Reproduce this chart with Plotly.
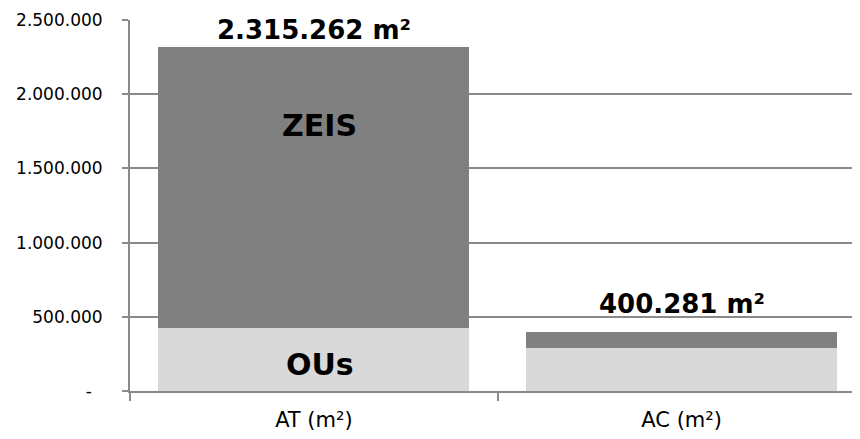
import plotly.graph_objects as go

categories = ["AT (m²)", "AC (m²)"]
ous_values = [425000, 288000]
zeis_values = [1890262, 112281]
totals = [2315262, 400281]
total_labels = ["2.315.262 m²", "400.281 m²"]
y_tickvals = [0, 500000, 1000000, 1500000, 2000000, 2500000]
y_ticktext = ["-\u00a0\u00a0", "500.000", "1.000.000", "1.500.000", "2.000.000", "2.500.000"]

grid = "#8a8a8a"
font_family = "DejaVu Sans"

fig = go.Figure()
fig.add_trace(go.Bar(x=categories, y=ous_values, marker=dict(color="#d9d9d9", line=dict(width=0)), name="OUs"))
fig.add_trace(go.Bar(x=categories, y=zeis_values, marker=dict(color="#808080", line=dict(width=0)), name="ZEIS"))

annotations = []
for i, (cat, tot, lab) in enumerate(zip(categories, totals, total_labels)):
    annotations.append(dict(x=cat, y=tot, text=f"<b>{lab}</b>", showarrow=False,
                            yanchor="bottom", yshift=0 if i == 0 else 11,
                            font=dict(family=font_family, size=26, color="#000000")))
annotations.append(dict(x=categories[0], y=1786000, text="<b>ZEIS</b>", showarrow=False, xshift=6,
                        font=dict(family=font_family, size=30, color="#000000")))
annotations.append(dict(x=categories[0], y=181000, text="<b>OUs</b>", showarrow=False, xshift=6,
                        font=dict(family=font_family, size=30, color="#000000")))

fig.update_layout(
    barmode="stack",
    bargap=0.154,
    width=852, height=431,
    margin=dict(l=122, r=0, t=12, b=48, autoexpand=False),
    plot_bgcolor="white", paper_bgcolor="white",
    showlegend=False,
    annotations=annotations,
    font=dict(family=font_family, color="#000000"),
    xaxis=dict(range=[-0.5, 1.485], showline=True, linecolor=grid, linewidth=2, automargin=False,
               ticks="outside", tickson="boundaries", ticklen=8, tickcolor=grid, tickwidth=2,
               ticklabelstandoff=9,
               tickfont=dict(family=font_family, size=21, color="#000000"), showgrid=False),
    yaxis=dict(range=[0, 2500000], tickvals=y_tickvals, ticktext=y_ticktext, automargin=False,
               showline=True, linecolor=grid, linewidth=2, showgrid=True, gridcolor=grid, gridwidth=1.5,
               zeroline=False, ticks="outside", ticklen=6, tickcolor=grid, tickwidth=2,
               ticklabelstandoff=16,
               tickfont=dict(family=font_family, size=17, color="#000000")),
)
fig.write_html("out.html")
